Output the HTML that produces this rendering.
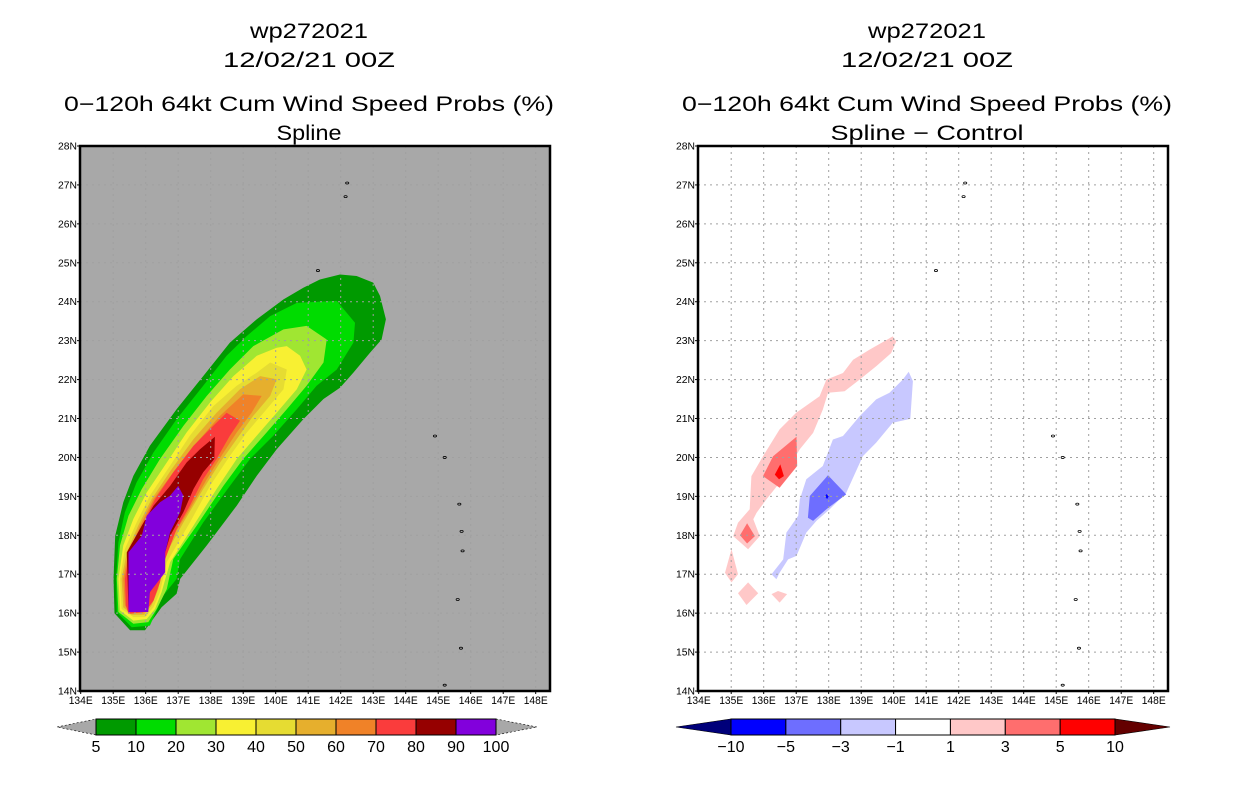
<!DOCTYPE html>
<html><head><meta charset="utf-8"><title>wp272021 wind speed probs</title>
<style>html,body{margin:0;padding:0;background:#fff;}svg{display:block;font-family:"Liberation Sans",sans-serif;}</style>
</head><body>
<svg id="chart" width="1236" height="800" viewBox="0 0 1236 800" xmlns="http://www.w3.org/2000/svg"></svg>
<script>
// ---- data ----
const lonTicks = [134,135,136,137,138,139,140,141,142,143,144,145,146,147,148];
const latTicks = [14,15,16,17,18,19,20,21,22,23,24,25,26,27,28];
const probLevels = [5,10,20,30,40,50,60,70,80,90,100];
const probColors = ["#009a00","#00dc00","#a0e632","#f8f032","#e6dc32","#e6af2d","#f08228","#fa3c3c","#960000","#8200dc"];
const diffLevels = [-10,-5,-3,-1,1,3,5,10];
const diffColors = ["#0000ff","#6e6eff","#c8c8ff","#ffffff","#ffc8c8","#ff6e6e","#ff0000"];
const prob5 = [[135.52,15.56],[135.98,15.56],[136.49,16.15],[136.95,16.5],[137.06,16.88],[137.88,17.74],[138.8,18.76],[139.42,19.53],[140.03,20.21],[140.85,20.98],[141.47,21.5],[141.98,21.79],[142.39,22.18],[142.9,22.69],[143.26,23.03],[143.39,23.55],[143.21,24.15],[143.0,24.49],[142.49,24.66],[141.98,24.7],[141.36,24.57],[140.85,24.36],[140.24,24.06],[139.42,23.55],[138.59,22.95],[137.77,22.09],[136.95,21.24],[136.13,20.3],[135.62,19.53],[135.31,18.85],[135.06,17.99],[135.01,16.88],[135.04,16.0]];
const prob10 = [[141.88,24.02],[142.44,23.46],[142.39,22.95],[141.88,22.26],[141.26,21.84],[140.65,21.24],[139.93,20.56],[139.21,19.96],[138.59,19.27],[137.77,18.33],[137.06,17.39],[136.95,16.88],[136.54,16.45],[136.13,15.68],[135.57,15.64],[135.11,16.03],[135.09,16.88],[135.16,17.82],[135.36,18.59],[135.72,19.36],[136.24,20.13],[136.95,20.98],[137.77,21.84],[138.49,22.61],[139.11,23.12],[139.83,23.63],[140.65,23.97]];
const prob20 = [[140.95,23.38],[141.57,23.03],[141.47,22.44],[140.95,21.84],[140.34,21.24],[139.72,20.64],[139.0,19.96],[138.39,19.27],[137.57,18.25],[136.85,17.39],[136.65,16.62],[136.34,16.11],[136.08,15.77],[135.62,15.73],[135.16,16.03],[135.11,16.88],[135.21,17.74],[135.47,18.5],[135.88,19.19],[136.44,19.96],[137.16,20.81],[137.88,21.58],[138.59,22.26],[139.31,22.86],[140.24,23.29]];
const prob30 = [[140.34,22.86],[140.75,22.61],[140.95,22.26],[140.65,21.75],[140.03,21.15],[139.42,20.56],[138.8,19.96],[138.18,19.19],[137.47,18.25],[136.75,17.31],[136.49,16.54],[136.29,16.11],[136.03,15.85],[135.62,15.81],[135.21,16.07],[135.16,16.88],[135.31,17.74],[135.62,18.42],[136.03,19.1],[136.65,19.87],[137.26,20.64],[137.98,21.41],[138.7,22.09],[139.42,22.61],[140.03,22.82]];
const prob40 = [[139.83,22.44],[140.34,22.26],[140.24,21.75],[139.72,21.24],[139.11,20.64],[138.59,20.04],[137.98,19.27],[137.36,18.33],[136.65,17.31],[136.44,16.54],[136.24,16.15],[135.98,15.9],[135.62,15.9],[135.26,16.11],[135.21,16.88],[135.36,17.65],[135.72,18.33],[136.13,19.02],[136.75,19.79],[137.36,20.56],[138.08,21.32],[138.8,21.84],[139.42,22.18]];
const prob50 = [[139.52,22.09],[140.03,22.01],[139.83,21.58],[139.31,21.07],[138.8,20.47],[138.29,19.87],[137.77,19.19],[137.16,18.33],[136.54,17.39],[136.39,16.62],[136.18,16.2],[135.95,15.96],[135.57,15.96],[135.31,16.15],[135.26,16.88],[135.42,17.56],[135.77,18.25],[136.18,18.93],[136.8,19.7],[137.47,20.47],[138.18,21.15],[138.9,21.75]];
const prob60 = [[139.0,21.62],[139.57,21.58],[139.26,21.15],[138.8,20.64],[138.33,20.04],[137.88,19.44],[137.36,18.68],[136.85,17.99],[136.49,17.22],[136.32,16.62],[136.13,16.24],[135.91,16.01],[135.52,16.01],[135.36,16.2],[135.31,16.88],[135.47,17.56],[135.83,18.25],[136.24,18.93],[136.85,19.62],[137.57,20.38],[138.29,21.07]];
const prob70 = [[138.49,21.15],[138.9,20.94],[138.59,20.56],[138.18,19.96],[137.77,19.44],[137.36,18.76],[136.95,18.16],[136.6,17.39],[136.44,16.79],[136.24,16.32],[135.98,16.03],[135.47,15.98],[135.39,16.2],[135.36,16.88],[135.5,17.56],[135.88,18.25],[136.29,18.93],[136.85,19.62],[137.47,20.3],[137.98,20.73]];
const prob80 = [[138.13,20.53],[138.11,19.96],[137.77,19.62],[137.47,19.19],[137.16,18.59],[136.75,17.99],[136.54,17.39],[136.39,16.88],[136.13,16.54],[135.98,16.04],[135.47,16.03],[135.42,17.56],[135.88,18.25],[136.24,18.76],[136.75,19.27],[137.26,19.87],[137.67,20.21]];
const prob90 = [[137.0,19.27],[137.16,19.02],[137.06,18.59],[136.75,18.08],[136.6,17.56],[136.6,17.05],[136.13,16.54],[136.08,16.03],[135.47,16.03],[135.47,17.56],[135.88,17.99],[136.03,18.5],[136.44,18.85],[136.75,19.02]];
const diffPos1a = [[139.97,23.11],[140.08,22.98],[139.92,22.68],[139.46,22.34],[138.95,22.0],[138.49,21.7],[137.98,21.66],[137.82,21.23],[137.52,20.63],[137.11,20.21],[136.8,19.78],[136.49,19.35],[136.08,18.92],[135.78,18.58],[135.68,18.41],[135.88,17.98],[135.52,17.64],[135.06,17.98],[135.21,18.32],[135.57,18.67],[135.62,19.52],[135.98,20.03],[136.49,20.72],[137.0,21.15],[137.72,21.57],[137.93,22.0],[138.44,22.17],[138.75,22.51],[139.26,22.77]];
const diffPos1b = [[135.01,17.64],[135.21,17.0],[135.01,16.79],[134.81,17.04]];
const diffPos1c = [[135.52,16.79],[135.83,16.51],[135.47,16.21],[135.21,16.51]];
const diffPos1d = [[136.44,16.57],[136.72,16.49],[136.49,16.27],[136.24,16.49]];
const diffPos3a = [[137.01,20.53],[137.03,19.78],[136.49,19.22],[135.98,19.52],[136.29,20.03]];
const diffPos3b = [[135.49,18.31],[135.73,17.98],[135.49,17.79],[135.27,18.0]];
const diffPos5 = [[136.51,19.82],[136.62,19.52],[136.47,19.44],[136.34,19.56]];
const diffNeg1 = [[140.46,22.2],[140.59,21.96],[140.51,20.99],[139.97,20.89],[139.46,20.38],[139.05,20.03],[138.54,19.09],[138.03,18.67],[137.62,18.37],[137.31,18.07],[137.01,17.47],[136.75,17.38],[136.49,17.04],[136.39,16.87],[136.24,17.0],[136.6,17.38],[136.7,18.07],[137.06,18.5],[137.11,18.92],[137.31,19.44],[137.82,19.78],[138.13,20.46],[138.44,20.55],[138.95,21.06],[139.46,21.49],[139.87,21.66],[140.28,22.0]];
const diffNeg3 = [[137.98,19.54],[138.54,19.05],[137.93,18.67],[137.52,18.37],[137.36,18.45],[137.42,19.01]];
const diffNeg5 = [[137.93,19.06],[138.0,19.0],[137.95,18.93],[137.89,19.0]];
const islands = [[142.2,27.05],[142.15,26.7],[141.3,24.8],[144.9,20.55],[145.2,20.0],[145.65,18.8],[145.72,18.1],[145.75,17.6],[145.6,16.35],[145.7,15.1],[145.2,14.15]];

// ---- layout ----
const NS = "http://www.w3.org/2000/svg";
const svg = document.getElementById('chart');
const PX0 = 80.7, PXDEG = 32.5, PY0 = 146, PYDEG = 38.93, PW = 470, PH = 545;
function mk(tag, attrs, parent){ const e=document.createElementNS(NS,tag); for(const k in attrs) e.setAttribute(k,attrs[k]); (parent||svg).appendChild(e); return e; }
function xs(off, lon){ return off + PX0 + (lon-134)*PXDEG; }
function ys(lat){ return PY0 + (28-lat)*PYDEG; }
function pts(off, arr){ return arr.map(p=>xs(off,p[0]).toFixed(1)+','+ys(p[1]).toFixed(1)).join(' '); }
function txt(x,y,s,size,anchor,len,name,parent){
  const t=mk('text',{x:x,y:y,'font-size':size,'text-anchor':anchor||'middle',fill:'#000'},parent);
  if(len){t.setAttribute('textLength',len);t.setAttribute('lengthAdjust','spacingAndGlyphs');}
  t.textContent=s;
  
  
  return t;
}

function panel(off, cx, sub, subLen, bg, fills, name){
  const g = mk('g',{});
  
  
  txt(cx,38,'wp272021',21,'middle',118,'storm-id-title',g);
  txt(cx,67,'12/02/21 00Z',21,'middle',172,'date-title',g);
  txt(cx,111,'0\u2212120h 64kt Cum Wind Speed Probs (%)',21,'middle',490,'product-title',g);
  txt(cx,140,sub,21,'middle',subLen,'subtitle',g);
  const x0 = off+80, y0=PY0;
  const bgr = mk('rect',{x:x0,y:y0,width:PW,height:PH,fill:bg},g);
  
  
  // filled contours
  for(const f of fills){
    const p=mk('polygon',{points:pts(off,f.d),fill:f.c},g);
    
    
  }
  // grid (on top of fills)
  for(const lo of lonTicks){ if(lo===134) continue;
    const l=mk('line',{x1:xs(off,lo),x2:xs(off,lo),y1:y0,y2:y0+PH,stroke:'#a0a0a0','stroke-width':1,'stroke-dasharray':'2,4'},g);
      }
  for(const la of latTicks){ if(la===14||la===28) continue;
    const l=mk('line',{x1:x0,x2:x0+PW,y1:ys(la),y2:ys(la),stroke:'#a0a0a0','stroke-width':1,'stroke-dasharray':'2,4'},g);
      }
  // islands
  for(const is of islands){
    const e=mk('ellipse',{cx:xs(off,is[0]),cy:ys(is[1]),rx:1.6,ry:1,fill:'none',stroke:'#000','stroke-width':0.8},g);
    
    
  }
  const fr=mk('rect',{x:x0,y:y0,width:PW,height:PH,fill:'none',stroke:'#000','stroke-width':2.5},g);
  
  
  for(const la of latTicks){
    mk('line',{x1:x0-3,x2:x0,y1:ys(la),y2:ys(la),stroke:'#000'},g);
    txt(x0-3,ys(la)+3.5,la+'N',10,'end',19,'lat-tick-label',g);
  }
  for(const lo of lonTicks){
    mk('line',{x1:xs(off,lo),x2:xs(off,lo),y1:y0+PH,y2:y0+PH+3,stroke:'#000'},g);
    txt(xs(off,lo),y0+PH+13,lo+'E',11,'middle',24,'lon-tick-label',g);
  }
  return g;
}

function colorbar(tipL, barL, barR, tipR, colors, lowC, highC, labels, name){
  const g=mk('g',{});
  
  
  const yT=719, yB=735, yM=727;
  const tl=mk('polygon',{points:`${tipL},${yM} ${barL},${yT} ${barL},${yB}`,fill:lowC,stroke:'#000','stroke-width':0.6,'stroke-dasharray':lowC==='#a8a8a8'?'2,2':'none'},g);
   
  const tr=mk('polygon',{points:`${tipR},${yM} ${barR},${yT} ${barR},${yB}`,fill:highC,stroke:'#000','stroke-width':0.6,'stroke-dasharray':highC==='#a8a8a8'?'2,2':'none'},g);
   
  const w=(barR-barL)/colors.length;
  colors.forEach((c,i)=>{
    const r=mk('rect',{x:barL+i*w,y:yT,width:w,height:yB-yT,fill:c,stroke:'#000','stroke-width':1},g);
    
    
  });
  labels.forEach((v,i)=>{
    const s = (v<0?'\u2212'+(-v):String(v));
    txt(barL+i*w + (labels.length===colors.length+1?0:w), 752, s, 16,'middle', null,'colorbar-label',g);
  });
}

panel(0, 309, 'Spline', 65, '#a8a8a8', [
  {d:prob5,c:probColors[0],n:'contour-5pct'},{d:prob10,c:probColors[1],n:'contour-10pct'},
  {d:prob20,c:probColors[2],n:'contour-20pct'},{d:prob30,c:probColors[3],n:'contour-30pct'},
  {d:prob40,c:probColors[4],n:'contour-40pct'},{d:prob50,c:probColors[5],n:'contour-50pct'},
  {d:prob60,c:probColors[6],n:'contour-60pct'},{d:prob70,c:probColors[7],n:'contour-70pct'},
  {d:prob80,c:probColors[8],n:'contour-80pct'},{d:prob90,c:probColors[9],n:'contour-90pct'}
], 'left-panel-spline');

panel(618, 927, 'Spline \u2212 Control', 193, '#ffffff', [
  {d:diffPos1a,c:diffColors[4],n:'diff-pos-1-band'},{d:diffPos1b,c:diffColors[4],n:'diff-pos-1-patch'},
  {d:diffPos1c,c:diffColors[4],n:'diff-pos-1-patch'},{d:diffPos1d,c:diffColors[4],n:'diff-pos-1-patch'},
  {d:diffPos3a,c:diffColors[5],n:'diff-pos-3-patch'},{d:diffPos3b,c:diffColors[5],n:'diff-pos-3-patch'},
  {d:diffPos5,c:diffColors[6],n:'diff-pos-5-patch'},
  {d:diffNeg1,c:diffColors[2],n:'diff-neg-1-band'},{d:diffNeg3,c:diffColors[1],n:'diff-neg-3-patch'},
  {d:diffNeg5,c:diffColors[0],n:'diff-neg-5-patch'}
], 'right-panel-difference');

colorbar(57, 96, 496, 537, probColors, '#a8a8a8', '#a8a8a8', probLevels, 'prob-colorbar');
colorbar(676, 731, 1115, 1170, diffColors, '#00007a', '#640000', diffLevels, 'diff-colorbar');
</script>
</body></html>
